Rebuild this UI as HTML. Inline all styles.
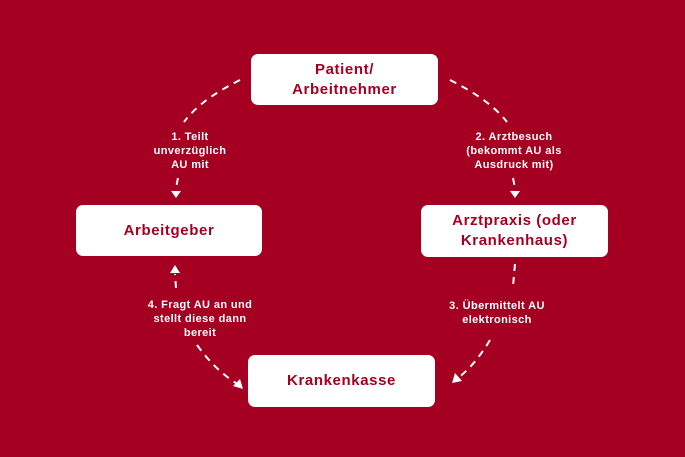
<!DOCTYPE html>
<html><head><meta charset="utf-8"><style>
body{margin:0;width:685px;height:457px;background:#a50021;position:relative;overflow:hidden;font-family:"Liberation Sans",sans-serif;font-weight:bold}
.b{position:absolute;background:#fff;border-radius:7px;color:#a50021;font-size:15px;line-height:20px;display:flex;align-items:center;justify-content:center;text-align:center;letter-spacing:0.6px}
.l{position:absolute;color:#fff;font-size:11px;line-height:14px;text-align:center;letter-spacing:0.4px;transform:translateX(-50%);white-space:nowrap}
svg{position:absolute;left:0;top:0}
</style></head><body>
<svg width="685" height="457" fill="none" stroke="#fff" stroke-width="2" stroke-dasharray="7 6">
<path d="M240 80 Q200 100 184 122"/>
<path d="M178 178 L176 188"/>
<path d="M450 80 Q490 100 507 122"/>
<path d="M513 178 L515 188"/>
<path d="M515 264 L513 286"/>
<path d="M490 340 Q475 365 458 378"/>
<path d="M176 288 L175 274"/>
<path d="M197 345 Q215 370 236 383"/>
<g stroke="none" fill="#fff">
<path d="M171 191 L176 198 L181 191 Z"/>
<path d="M510 191 L515 198 L520 191 Z"/>
<path d="M452 383 L455 373 L462 381 Z"/>
<path d="M170 273 L175 265 L180 273 Z"/>
<path d="M243 389 L240 379 L233 386 Z"/>
</g></svg>
<div class="b" style="left:251px;top:54px;width:187px;height:51px">Patient/<br>Arbeitnehmer</div>
<div class="b" style="left:76px;top:205px;width:186px;height:51px">Arbeitgeber</div>
<div class="b" style="left:421px;top:205px;width:187px;height:52px">Arztpraxis (oder<br>Krankenhaus)</div>
<div class="b" style="left:248px;top:355px;width:187px;height:52px">Krankenkasse</div>
<div class="l" style="left:190px;top:130px">1. Teilt<br>unverzüglich<br>AU mit</div>
<div class="l" style="left:514px;top:130px">2. Arztbesuch<br>(bekommt AU als<br>Ausdruck mit)</div>
<div class="l" style="left:497px;top:299px">3. Übermittelt AU<br>elektronisch</div>
<div class="l" style="left:200px;top:298px">4. Fragt AU an und<br>stellt diese dann<br>bereit</div>
</body></html>
